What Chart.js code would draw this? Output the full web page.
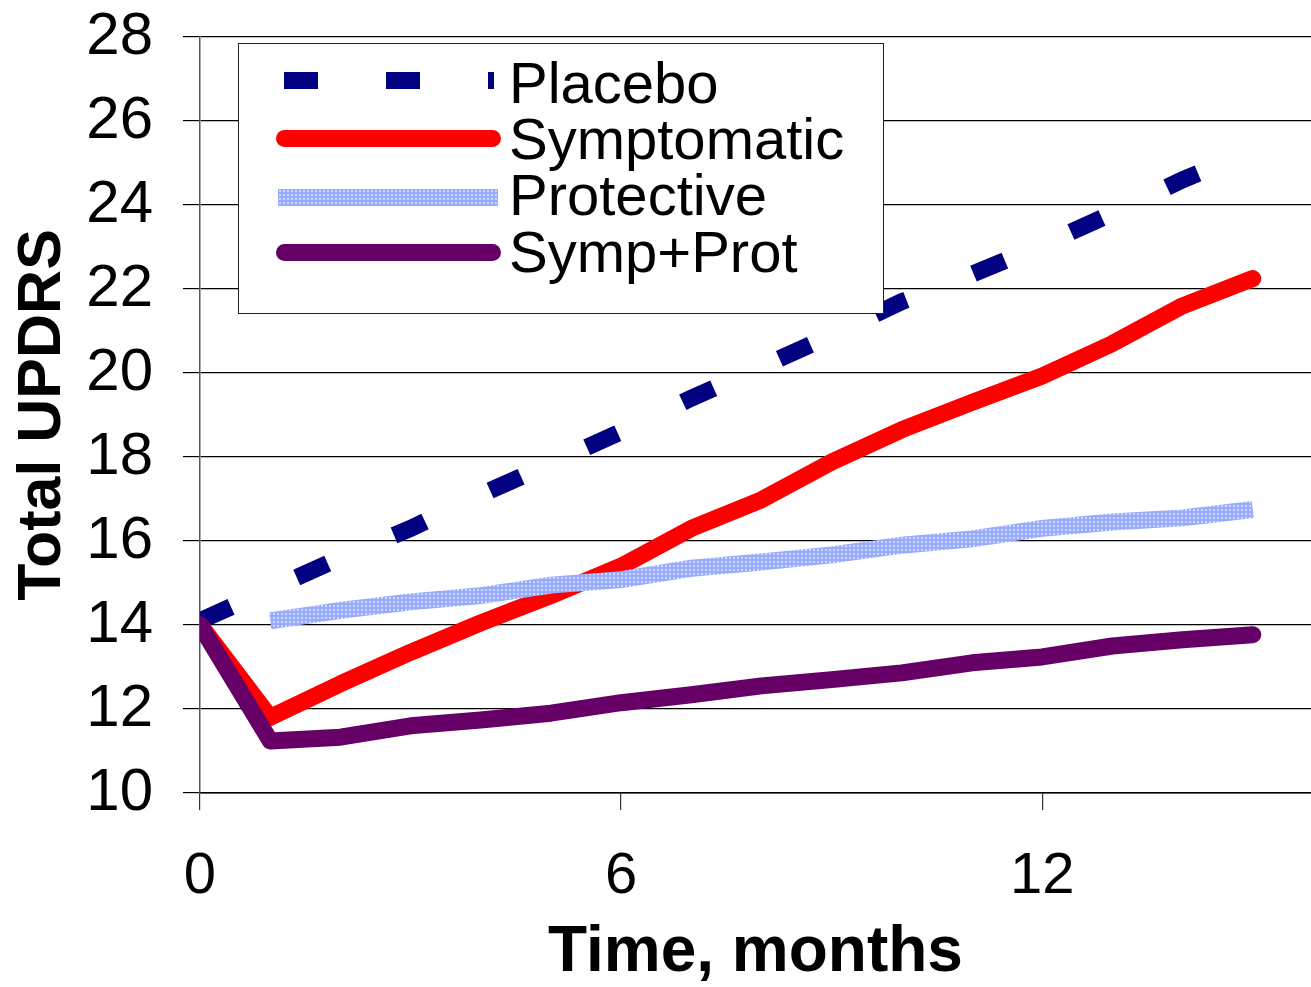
<!DOCTYPE html>
<html>
<head>
<meta charset="utf-8">
<script src="https://cdn.jsdelivr.net/npm/chart.js@4/dist/chart.umd.min.js"></script>
<style>
  html, body { margin: 0; padding: 0; background: #fff; }
  #wrap { position: relative; width: 1311px; height: 987px; overflow: hidden; }
  #c { display: block; }
  #legend { position: absolute; left: 238px; top: 43px; width: 646px; height: 271px;
            box-sizing: border-box; border: 1.5px solid #222; background: #fff; }
  .smp { position: absolute; height: 17px; }
  .lbl { position: absolute; left: 509px; height: 58px; line-height: 58px; white-space: nowrap;
         font-family: 'Liberation Sans', Arial, sans-serif; font-size: 58px; color: #000; }
</style>
</head>
<body>
<div id="wrap">
  <canvas id="c" width="1311" height="987"></canvas>
  <div id="legend"></div>
  <div class="smp" id="s0" style="left:284px; top:72px; width:210px;"></div>
  <div class="lbl" id="l0" style="top:54px;"></div>
  <div class="smp" id="s1" style="left:276px; top:130px; width:225px; border-radius:8.5px;"></div>
  <div class="lbl" id="l1" style="top:110px;"></div>
  <div class="smp" id="s2" style="left:278px; top:189px; width:220px;"></div>
  <div class="lbl" id="l2" style="top:166px;"></div>
  <div class="smp" id="s3" style="left:276px; top:244px; width:225px; border-radius:8.5px;"></div>
  <div class="lbl" id="l3" style="top:223px;"></div>
</div>
<script>
// ---- data ----
const months = [0, 1, 2, 3, 4, 5, 6, 7, 8, 9, 10, 11, 12, 13, 14, 15];
const seriesNames = ['Placebo', 'Symptomatic', 'Protective', 'Symp+Prot'];
const placebo     = [14.1, 14.85, 15.6, 16.3, 17.1, 17.85, 18.6, 19.4, 20.15, 20.9, 21.7, 22.35, 23.05, 23.8, 24.6, 25.3];
const symptomatic = [14.0, 11.8, 12.6, 13.35, 14.05, 14.7, 15.4, 16.3, 16.98, 17.88, 18.65, 19.3, 19.93, 20.7, 21.6, 22.25];
const protective  = [null, 14.1, 14.35, 14.55, 14.7, 14.95, 15.08, 15.35, 15.5, 15.67, 15.9, 16.05, 16.3, 16.45, 16.55, 16.75];
const sympProt    = [14.0, 11.24, 11.33, 11.6, 11.74, 11.9, 12.15, 12.34, 12.55, 12.7, 12.86, 13.1, 13.24, 13.5, 13.65, 13.77];
const xTickValues = [0, 6, 12];
const xAxisTitle = 'Time, months';
const yAxisTitle = 'Total UPDRS';

// ---- styles ----
const FONT = "'Liberation Sans', Arial, sans-serif";
const colPlacebo = '#000080';
const colSymp = '#ff0000';
const colProt = '#660066';

// dotted light-blue pattern for "Protective"
const pc = document.createElement('canvas');
pc.width = 4; pc.height = 4;
const pctx = pc.getContext('2d');
pctx.fillStyle = '#97abff';
pctx.fillRect(0, 0, 4, 4);
pctx.fillStyle = '#ccd6ff';
pctx.fillRect(1, 1, 2, 2);
const protPattern = document.getElementById('c').getContext('2d').createPattern(pc, 'repeat');

function pts(arr) { return months.map((m, i) => ({ x: m, y: arr[i] })); }

// legend (HTML)
const lbls = ['l0', 'l1', 'l2', 'l3'];
lbls.forEach((id, i) => { document.getElementById(id).textContent = seriesNames[i]; });
document.getElementById('s0').style.background =
  'repeating-linear-gradient(to right, ' + colPlacebo + ' 0px, ' + colPlacebo + ' 34px, transparent 34px, transparent 102px)';
document.getElementById('s1').style.background = colSymp;
document.getElementById('s2').style.backgroundImage = 'url(' + pc.toDataURL() + ')';
document.getElementById('s3').style.background = colProt;

new Chart(document.getElementById('c'), {
  type: 'line',
  data: {
    datasets: [
      { label: seriesNames[0], data: pts(placebo), borderColor: colPlacebo, borderWidth: 17,
        borderDash: [34, 72], borderCapStyle: 'butt', borderJoinStyle: 'miter', pointRadius: 0, order: 4, tension: 0 },
      { label: seriesNames[1], data: pts(symptomatic), borderColor: colSymp, borderWidth: 17,
        borderCapStyle: 'round', borderJoinStyle: 'round', pointRadius: 0, order: 3, tension: 0 },
      { label: seriesNames[2], data: pts(protective), borderColor: protPattern, borderWidth: 17,
        borderCapStyle: 'butt', borderJoinStyle: 'miter', pointRadius: 0, order: 2, tension: 0 },
      { label: seriesNames[3], data: pts(sympProt), borderColor: colProt, borderWidth: 17,
        borderCapStyle: 'round', borderJoinStyle: 'round', pointRadius: 0, order: 1, tension: 0 }
    ]
  },
  options: {
    responsive: false,
    animation: false,
    devicePixelRatio: 1,
    layout: { padding: { top: 37, right: 0, left: 0, bottom: 0 } },
    plugins: { legend: { display: false }, tooltip: { enabled: false } },
    scales: {
      x: {
        type: 'linear', min: 0, max: 15.83,
        afterFit: s => { s.height = 194; s.paddingLeft = 0; s.paddingRight = 0; },
        afterBuildTicks: s => { s.ticks = xTickValues.map(v => ({ value: v })); },
        ticks: { font: { family: FONT, size: 58 }, color: '#000', padding: 32, maxRotation: 0, autoSkip: false },
        grid: { drawOnChartArea: false, drawTicks: true, tickLength: 17, color: '#333', lineWidth: 1.2 },
        border: { display: true, color: '#000', width: 1.5 },
        title: { display: true, text: xAxisTitle, color: '#000',
                 font: { family: FONT, size: 64, weight: 'bold' }, padding: { top: 0, bottom: -5 } }
      },
      y: {
        min: 10, max: 28,
        afterFit: s => { s.width = 200; s.paddingTop = 0; s.paddingBottom = 0; },
        ticks: { stepSize: 2, font: { family: FONT, size: 60 }, color: '#000', padding: 30 },
        grid: { color: '#000', lineWidth: 1.2, tickLength: 17, tickColor: '#000' },
        border: { display: true, color: '#555', width: 1.5 },
        title: { display: true, text: yAxisTitle, color: '#000',
                 font: { family: FONT, size: 61, weight: 'bold' }, padding: { top: 7, bottom: 0 } }
      }
    }
  }
});
</script>
</body>
</html>
